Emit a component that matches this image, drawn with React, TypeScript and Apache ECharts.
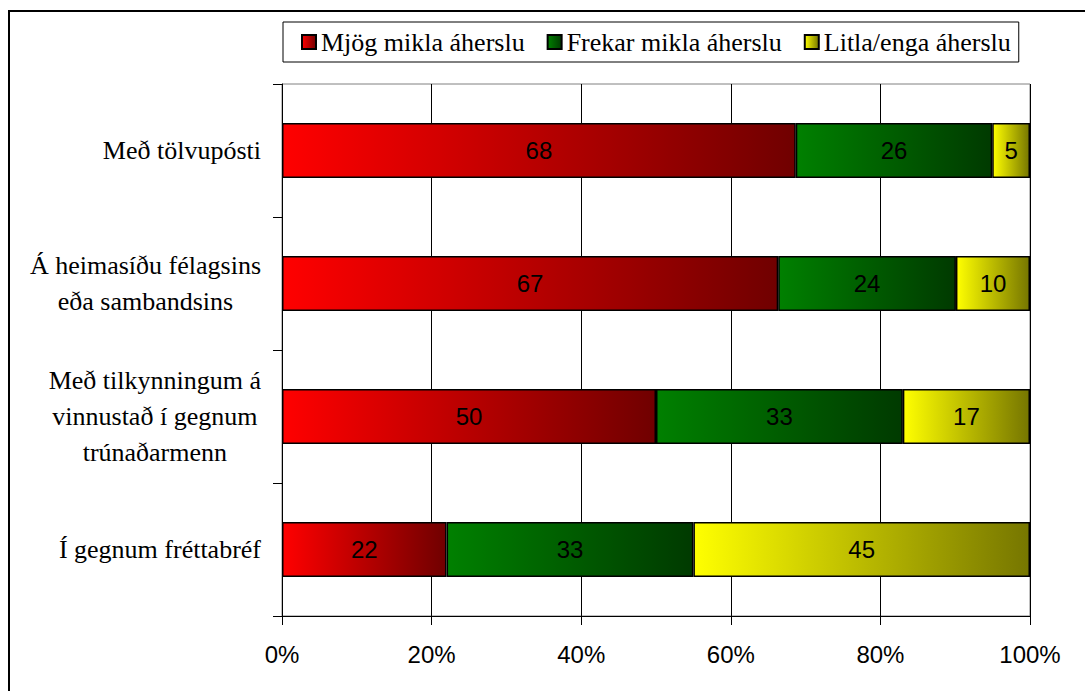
import React, { useEffect, useRef } from "react";
import * as echarts from "echarts";

const categories = [
  "Með tölvupósti",
  "Á heimasíðu félagsins\neða sambandsins",
  "Með tilkynningum á\nvinnustað í gegnum\ntrúnaðarmenn",
  "Í gegnum fréttabréf",
];
const seriesNames = ["Mjög mikla áherslu", "Frekar mikla áherslu", "Litla/enga áherslu"];
const mjogMikla = [68, 67, 50, 22];
const frekarMikla = [26, 24, 33, 33];
const litlaEnga = [5, 10, 17, 45];
const xTickValues = [0, 20, 40, 60, 80, 100];

const SERIF = "Liberation Serif";
const SANS = "Liberation Sans";

const grad = (c0: string, c1: string) =>
  new echarts.graphic.LinearGradient(0, 0, 1, 0, [
    { offset: 0, color: c0 },
    { offset: 1, color: c1 },
  ]);

export default function App() {
  const ref = useRef<HTMLDivElement>(null);
  useEffect(() => {
    if (!ref.current) return;
    const chart = echarts.init(ref.current, null, { renderer: "svg" });
    const raw = [mjogMikla, frekarMikla, litlaEnga];
    const totals = categories.map((_, i) => raw.reduce((s, arr) => s + arr[i], 0));
    const colors = [
      grad("#ff0000", "#700000"),
      grad("#008000", "#003a00"),
      grad("#ffff00", "#767600"),
    ];
    const series = raw.map((arr, si) => ({
      name: seriesNames[si],
      type: "bar",
      stack: "total",
      barWidth: 55,
      data: arr.map((v, i) => (v / totals[i]) * 100),
      itemStyle: { color: colors[si], borderColor: "#000", borderWidth: 1.5 },
      label: {
        show: true,
        position: "inside",
        fontFamily: SANS,
        fontSize: 24,
        color: "#000",
        formatter: (p: any) => String(arr[p.dataIndex]),
      },
    }));

    chart.setOption({
      animation: false,
      backgroundColor: "#fff",
      textStyle: { fontFamily: SERIF, color: "#000" },
      graphic: [
        {
          type: "rect",
          shape: { x: 9, y: 11, width: 1200, height: 800 },
          style: { fill: "none", stroke: "#000", lineWidth: 2 },
          silent: true,
        },
      ],
      legend: {
        left: 283,
        top: 22,
        orient: "horizontal",
        data: seriesNames,
        icon: "rect",
        itemWidth: 14,
        itemHeight: 14,
        itemGap: 22,
        padding: [7, 8, 7, 18],
        borderColor: "#000",
        borderWidth: 1,
        backgroundColor: "#fff",
        textStyle: { fontFamily: SERIF, fontSize: 26, color: "#000" },
      },
      grid: {
        left: 282,
        right: 55,
        top: 84,
        bottom: 75,
        show: true,
        borderColor: "#808080",
        borderWidth: 1,
        containLabel: false,
      },
      xAxis: {
        type: "value",
        min: 0,
        max: 100,
        interval: 20,
        axisLine: { show: true, lineStyle: { color: "#000", width: 1 } },
        axisTick: { show: true, length: 9, lineStyle: { color: "#000" } },
        splitLine: { show: true, lineStyle: { color: "#000", width: 1 } },
        axisLabel: {
          margin: 26,
          fontFamily: SANS,
          fontSize: 24,
          color: "#000",
          formatter: (v: number) => (xTickValues.includes(v) ? v + "%" : ""),
        },
      },
      yAxis: {
        type: "category",
        inverse: true,
        data: categories,
        axisLine: { show: true, lineStyle: { color: "#000", width: 1 } },
        axisTick: { show: true, length: 9, lineStyle: { color: "#000" } },
        axisLabel: {
          margin: 21,
          color: "#000",
          fontFamily: SERIF,
          fontSize: 26,
          lineHeight: 36,
          formatter: (v: string) =>
            v
              .split("\n")
              .map((line) => `{c|${line}}`)
              .join("\n"),
          rich: {
            c: {
              align: "center",
              fontFamily: SERIF,
              fontSize: 26,
              lineHeight: 36,
              color: "#000",
            },
          },
        },
      },
      series,
    });
    return () => chart.dispose();
  }, []);
  return (
    <div
      ref={ref}
      style={{ position: "absolute", left: 0, top: 0, width: 1085, height: 691 }}
    />
  );
}
